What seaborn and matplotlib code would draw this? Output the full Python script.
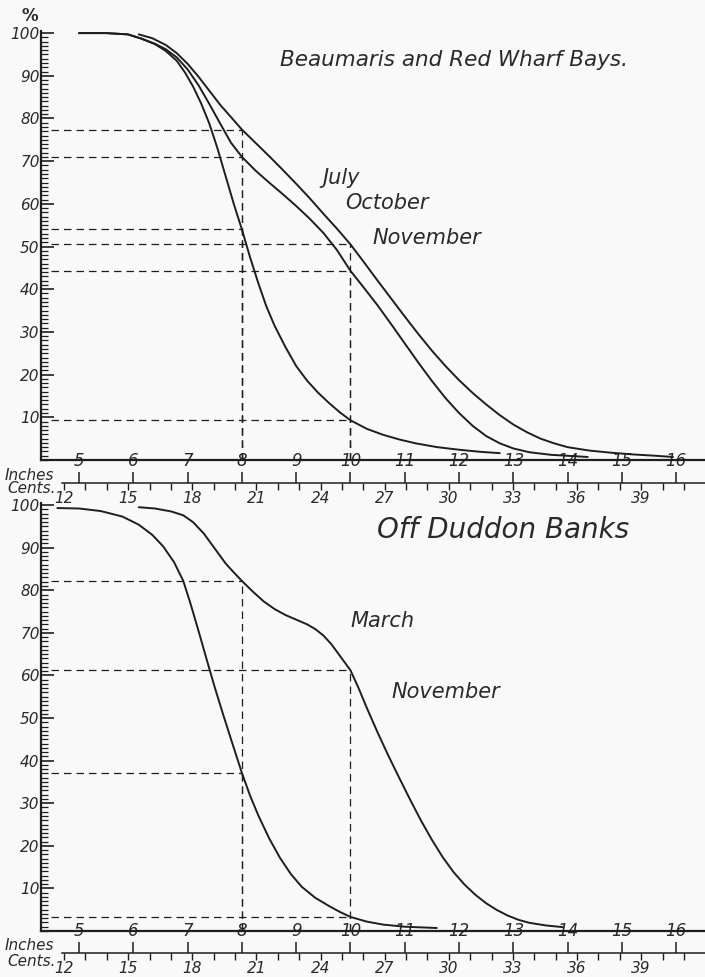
import matplotlib
matplotlib.use("Agg")
import matplotlib.pyplot as plt
import seaborn as sns

# Beaumaris and Red Wharf Bays: length (inches) vs percent
july_in = [6.1, 6.35, 6.6, 6.8, 7.0, 7.2, 7.4, 7.6, 7.8, 8.0, 8.25, 8.5, 8.75, 9.0, 9.25, 9.5, 9.75, 10.0,
           10.25, 10.5, 10.75, 11.0, 11.25, 11.5, 11.75, 12.0, 12.25, 12.5, 12.75, 13.0, 13.25, 13.5, 13.75,
           14.0, 14.4, 14.8, 15.2, 15.6, 15.94]
july_pc = [99.7, 98.8, 97.2, 95.3, 92.8, 89.8, 86.5, 83.2, 80.3, 77.4, 74.3, 71.2, 68.0, 64.7, 61.3, 57.7, 54.2, 50.5,
           46.3, 42.0, 37.8, 33.6, 29.5, 25.6, 22.0, 18.7, 15.7, 13.0, 10.5, 8.3, 6.5, 5.0, 3.9,
           3.0, 2.2, 1.7, 1.3, 1.0, 0.7]

october_in = [5.0, 5.5, 5.9, 6.15, 6.4, 6.6, 6.8, 7.0, 7.2, 7.4, 7.6, 7.8, 8.0, 8.25, 8.5, 8.75, 9.0, 9.25, 9.5, 9.75,
              10.0, 10.25, 10.5, 10.75, 11.0, 11.25, 11.5, 11.75, 12.0, 12.25, 12.5, 12.75, 13.0, 13.3, 13.7, 14.37]
october_pc = [100, 100, 99.7, 98.7, 97.5, 96.2, 94.3, 91.5, 87.8, 83.4, 78.8, 74.3, 71.0, 67.8, 65.0, 62.3, 59.5, 56.5, 53.2, 49.2,
              44.3, 40.3, 36.2, 31.8, 27.3, 22.8, 18.5, 14.5, 11.0, 8.0, 5.6, 3.9, 2.7, 1.8, 1.2, 0.7]

november_in = [5.0, 5.5, 5.9, 6.15, 6.4, 6.6, 6.8, 6.95, 7.1, 7.25, 7.4, 7.55, 7.7, 7.85, 8.0, 8.15, 8.3, 8.45, 8.6, 8.8,
               9.0, 9.2, 9.4, 9.6, 9.8, 10.0, 10.3, 10.6, 10.9, 11.2, 11.6, 12.0, 12.4, 12.75]
november_pc = [100, 100, 99.7, 98.7, 97.4, 95.8, 93.5, 90.8, 87.5, 83.5, 78.8, 73.0, 66.5, 60.0, 54.0, 47.5, 41.5, 36.0, 31.5, 26.5,
               22.0, 18.6, 15.8, 13.4, 11.2, 9.3, 7.3, 5.9, 4.8, 3.9, 3.0, 2.4, 1.9, 1.6]

# Off Duddon Banks
march_in = [6.1, 6.4, 6.7, 6.92, 7.1, 7.3, 7.5, 7.7, 7.85, 8.0, 8.2, 8.4, 8.6, 8.8, 9.0, 9.2, 9.35, 9.5, 9.65, 9.8,
            10.0, 10.15, 10.3, 10.5, 10.7, 10.9, 11.1, 11.3, 11.5, 11.7, 11.9, 12.1, 12.3, 12.5, 12.7, 12.9,
            13.1, 13.3, 13.6, 13.91]
march_pc = [99.5, 99.2, 98.5, 97.6, 96.0, 93.3, 89.8, 86.3, 84.2, 82.2, 79.7, 77.4, 75.6, 74.2, 73.1, 72.0, 70.9, 69.4, 67.3, 64.7,
            61.2, 57.0, 52.4, 46.6, 41.1, 35.9, 30.8, 25.9, 21.4, 17.3, 13.8, 10.9, 8.5, 6.5, 4.9, 3.6,
            2.6, 1.9, 1.3, 0.9]

nov_db_in = [4.6, 5.0, 5.4, 5.8, 6.1, 6.35, 6.55, 6.75, 6.92, 7.05, 7.2, 7.35, 7.5, 7.65, 7.8, 8.0, 8.15, 8.3, 8.5, 8.7,
             8.9, 9.1, 9.35, 9.6, 9.8, 10.0, 10.3, 10.6, 11.0, 11.59]
nov_db_pc = [99.3, 99.2, 98.6, 97.3, 95.4, 93.0, 90.3, 86.6, 82.2, 77.0, 70.5, 63.8, 57.2, 51.0, 45.0, 37.1, 31.8, 27.2, 21.8, 17.2,
             13.4, 10.4, 7.8, 5.9, 4.5, 3.3, 2.2, 1.5, 1.0, 0.7]

# dashed read-off lines (length, percent)
top_guide_in = [8, 8, 8, 10, 10, 10]
top_guide_pc = [77.4, 71.0, 54.0, 50.5, 44.3, 9.3]
bot_guide_in = [8, 8, 10, 10]
bot_guide_pc = [82.2, 37.1, 61.2, 3.3]

inch_ticks = list(range(5, 17))
cent_labels = list(range(12, 40, 3))
cent_minor = list(range(12, 42))
pct_ticks = list(range(10, 101, 10))

sns.set_theme(style="white")
plt.rcParams['font.family'] = ['DejaVu Sans']
plt.rcParams['font.style'] = 'italic'
ink = '#1e1e1e'
txt = '#2a2a2a'

fig = plt.figure(figsize=(7.05, 9.77), dpi=100, facecolor='#f9f9f9')
ax1 = fig.add_axes([0.0582, 0.5292, 0.9418, 0.4391])
ax2 = fig.add_axes([0.0582, 0.0471, 0.9418, 0.4381])


def style_axes(ax, off):
    ax.set_facecolor('none')
    ax.set_xlim(4.30, 16.53)
    ax.set_ylim(0, 100.5)
    for s in ['top', 'right']:
        ax.spines[s].set_visible(False)
    for s in ['left', 'bottom']:
        ax.spines[s].set_color(ink)
        ax.spines[s].set_linewidth(1.6)
    ax.set_yticks(pct_ticks)
    ax.set_yticks(range(0, 101), minor=True)
    ax.tick_params(axis='y', which='major', direction='in', length=9, width=1.2,
                   color=ink, left=True, labelsize=11, labelcolor=txt, pad=1)
    ax.tick_params(axis='y', which='minor', direction='in', length=5, width=0.9,
                   color=ink, left=True)
    ax.tick_params(axis='x', bottom=False, labelbottom=False)
    ax.set_xlabel('')
    ax.set_ylabel('')
    ax.grid(False)

    sec_in = ax.secondary_xaxis(off)
    sec_in.set_alignment('top')
    sec_in.set_xticks(inch_ticks)
    sec_in.set_xticklabels([str(v) for v in inch_ticks])
    sec_in.tick_params(direction='out', length=8, width=1.1, color=ink,
                       labelsize=12, labelcolor=txt, pad=1)
    sec_in.spines['top'].set_color(ink)
    sec_in.spines['top'].set_linewidth(1.1)
    sec_in.spines['top'].set_bounds(4.68, 16.53)

    sec_cm = ax.secondary_xaxis(off, functions=(lambda v: v * 2.54, lambda c: c / 2.54))
    sec_cm.set_xticks(cent_labels)
    sec_cm.set_xticklabels([str(v) for v in cent_labels])
    sec_cm.set_xticks(cent_minor, minor=True)
    sec_cm.tick_params(which='both', direction='out', length=5, width=1.0, color=ink,
                       labelsize=11, labelcolor=txt, pad=1)
    sec_cm.spines['bottom'].set_visible(False)


def draw(ax, xs, ys):
    sns.lineplot(x=xs, y=ys, ax=ax, color=ink, lw=1.4, sort=False, estimator=None)


def guides(ax, gx, gy):
    for x, y in zip(gx, gy):
        ax.hlines(y, 4.48, x, colors=ink, lw=0.9, linestyles=(0, (6, 4)))
        ax.vlines(x, 0, y, colors=ink, lw=0.9, linestyles=(0, (6, 4)))


style_axes(ax1, -0.0535)
style_axes(ax2, -0.051)

guides(ax1, top_guide_in, top_guide_pc)
draw(ax1, july_in, july_pc)
draw(ax1, october_in, october_pc)
draw(ax1, november_in, november_pc)

guides(ax2, bot_guide_in, bot_guide_pc)
draw(ax2, march_in, march_pc)
draw(ax2, nov_db_in, nov_db_pc)

ax1.text(8.70, 93.7, 'Beaumaris and Red Wharf Bays.', fontsize=15.5, color=txt, va='center')
ax1.text(9.475, 66.0, 'July', fontsize=15, color=txt, va='center')
ax1.text(9.90, 60.1, 'October', fontsize=15, color=txt, va='center')
ax1.text(10.40, 52.0, 'November', fontsize=15, color=txt, va='center')

ax2.text(10.49, 94.2, 'Off Duddon Banks', fontsize=20, color=txt, va='center')
ax2.text(9.99, 72.7, 'March', fontsize=15, color=txt, va='center')
ax2.text(10.76, 56.1, 'November', fontsize=15, color=txt, va='center')

fig.text(30 / 705, 1 - 16 / 977, '%', fontsize=12, fontweight='bold', color=txt,
         ha='center', va='center', style='normal')
fig.text(5 / 705, 1 - 475 / 977, 'Inches', fontsize=11, color=txt, va='center')
fig.text(7 / 705, 1 - 489 / 977, 'Cents.', fontsize=11, color=txt, va='center')
fig.text(5 / 705, 1 - 946 / 977, 'Inches', fontsize=11, color=txt, va='center')
fig.text(7 / 705, 1 - 962 / 977, 'Cents.', fontsize=11, color=txt, va='center')

fig.savefig('out.png', dpi=100, facecolor=fig.get_facecolor())
